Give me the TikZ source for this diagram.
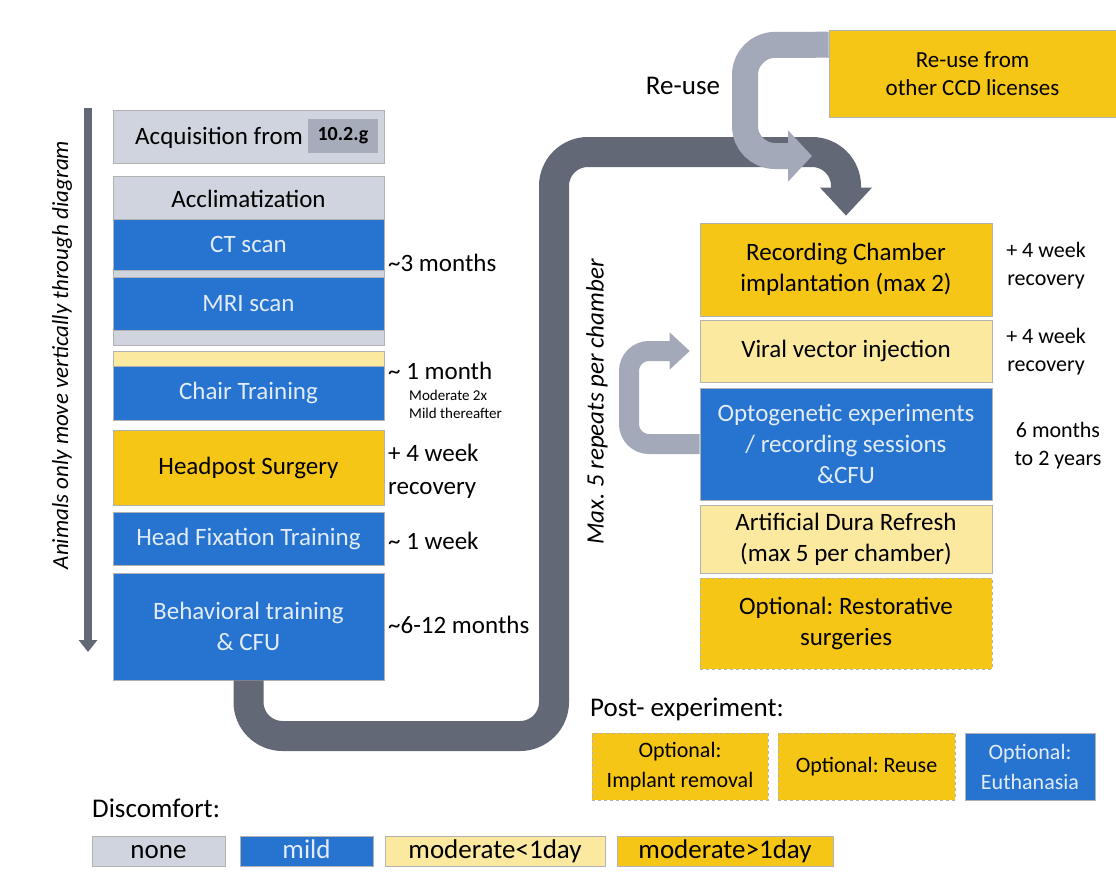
\documentclass[tikz,border=0pt]{standalone}
\usepackage{fontspec}
\setmainfont{Carlito}
\usetikzlibrary{arrows.meta,calc}
\frenchspacing

% discomfort colours
\definecolor{nonegray}{RGB}{208,212,222}
\definecolor{taggray}{RGB}{166,172,186}
\definecolor{mildblue}{RGB}{38,115,208}
\definecolor{lowyellow}{RGB}{252,233,160}
\definecolor{highyellow}{RGB}{246,198,22}
\definecolor{bluetext}{RGB}{226,235,248}
% arrow colours
\definecolor{pipegray}{RGB}{98,104,118}
\definecolor{reusegray}{RGB}{163,169,184}

\tikzset{
  wh/.style 2 args={minimum width=#1pt, minimum height=#2pt},
  box/.style={draw=gray!60, line width=0.6pt, inner sep=0pt, align=center,
    font=\fontsize{25}{31}\selectfont},
  nonebox/.style={box, fill=nonegray},
  mildbox/.style={box, fill=mildblue, text=bluetext},
  lowbox/.style={box, fill=lowyellow},
  highbox/.style={box, fill=highyellow},
  optbox/.style={box, fill=highyellow, dashed},
  legbox/.style={font=\fontsize{27}{30}\selectfont, text height=19pt, text depth=5pt},
  postbox/.style={font=\fontsize{22}{30}\selectfont},
  note/.style={anchor=west, inner sep=0pt, align=left, font=\fontsize{25}{33}\selectfont},
  smallnote/.style={anchor=west, inner sep=0pt, align=left, font=\fontsize{15}{18}\selectfont},
  rnote/.style={inner sep=0pt, align=center, font=\fontsize{22}{28}\selectfont},
  title/.style={anchor=west, inner sep=0pt, font=\fontsize{27}{32}\selectfont},
  sidetext/.style={rotate=90, inner sep=0pt, font=\fontsize{23}{26}\selectfont\itshape},
  pipe/.style={pipegray, line width=30pt, rounded corners=34pt},
  reuse/.style={reusegray, line width=26pt, rounded corners=30pt},
}

\begin{document}
\begin{tikzpicture}[x=1pt, y=-1pt]

% the page
\fill[white] (0,0) rectangle (1116,873);
\useasboundingbox (0,0) rectangle (1116,873);

% the left column
\node[nonebox, wh={271}{53}] (acq) at (248.5,136.5) {};
\node[inner sep=0pt, font=\fontsize{25}{29}\selectfont] (acqtext) at (219,138) {Acquisition from};
\node[fill=taggray, wh={70}{34}, inner sep=0pt, font=\fontsize{20}{22}\selectfont\bfseries] (acqtag) at (343,136) {10.2.g};

\node[nonebox, wh={271}{169}] (accl) at (248.5,260.5) {};
\node[inner sep=0pt, font=\fontsize{25}{29}\selectfont] (accltext) at (248.5,199) {Acclimatization};
\node[mildbox, wh={271}{51}] (ct) at (248.5,244.5) {CT scan};
\node[mildbox, wh={271}{53}] (mri) at (248.5,303.5) {MRI scan};

\node[lowbox, wh={271}{15}] (chairtop) at (248.5,358.5) {};
\node[mildbox, wh={271}{54}] (chair) at (248.5,393) {Chair Training};
\node[highbox, wh={271}{75}] (headpost) at (248.5,467.5) {Headpost Surgery};
\node[mildbox, wh={271}{53}] (headfix) at (248.5,538.5) {Head Fixation Training};
\node[mildbox, wh={271}{107}] (behav) at (248.5,626.5) {Behavioral training\\\& CFU};

% durations on the left
\node[note] (ctdur) at (388,263) {\textasciitilde3 months};
\node[note] (chairdur) at (388,371) {\textasciitilde{} 1 month};
\node[smallnote] (chairnote) at (409,404) {Moderate 2x\\Mild thereafter};
\node[note] (headdur) at (388,471) {+ 4 week\\recovery};
\node[note] (fixdur) at (388,541) {\textasciitilde{} 1 week};
\node[note] (behavdur) at (388,625) {\textasciitilde6-12 months};

% the vertical flow arrow
\coordinate (flowtop) at (88,108);
\coordinate (flowbot) at (88,652);
\draw[pipegray, line width=8pt, -{Triangle[width=18pt,length=12pt]}] (flowtop) -- (flowbot);
\node[sidetext] (flowtext) at (62,355) {Animals only move vertically through diagram};

% the right column
\node[highbox, wh={287}{87}, font=\fontsize{23}{28}\selectfont] (reusebox) at (972.5,73.5) {Re-use from\\other CCD licenses};
\node[highbox, wh={292}{93}] (rec) at (846,269.5) {Recording Chamber\\implantation (max 2)};
\node[lowbox, wh={292}{62}] (viral) at (846,351) {Viral vector injection};
\node[mildbox, wh={292}{112}] (opto) at (846,444) {Optogenetic experiments\\/ recording sessions\\\&CFU};
\node[lowbox, wh={292}{68}] (dura) at (846,539) {Artificial Dura Refresh\\(max 5 per chamber)};
\node[optbox, wh={292}{91}] (resto) at (846,623.5) {Optional: Restorative\\surgeries};

% durations on the right
\node[rnote] (recdur) at (1046,266) {+ 4 week\\recovery};
\node[rnote] (viraldur) at (1046,352) {+ 4 week\\recovery};
\node[rnote] (optodur) at (1058,446) {6 months\\to 2 years};

% the big connector
\draw[pipe, shorten >=7pt, -{Triangle[width=50pt,length=28pt]}] (behav.south) |- (554,736) -- (554,152) -- (846,152) -- (rec.north);

% the re-use arrow
\coordinate (reusetip) at (812,156);
\draw[reuse, -{Triangle[width=50pt,length=24pt]}] ($(reusebox.north west)+(0,15)$) -- (745,45) -- (745,156) -- (reusetip);
\node[inner sep=0pt, font=\fontsize{27}{30}\selectfont] (reuselabel) at (683,86) {Re-use};

% the repeat loop
\draw[reusegray, line width=20pt, rounded corners=20pt, shorten >=10pt, -{Triangle[width=36pt,length=20pt]}] (opto.west) -- (629,444) -- (629,351) -- (viral.west);
\node[sidetext, font=\fontsize{25}{28}\selectfont\itshape] (looptext) at (597,402) {Max. 5 repeats per chamber};

% post experiment
\node[title] (posttitle) at (590,709) {Post- experiment:};
\node[optbox, postbox, wh={176}{67}] (implant) at (680,766.5) {Optional:\\Implant removal};
\node[optbox, postbox, wh={177}{67}] (reusepost) at (866.5,766.5) {Optional: Reuse};
\node[mildbox, postbox, wh={130}{67}] (euth) at (1030,766.5) {Optional:\\Euthanasia};

% the legend
\node[title] (legtitle) at (92,808) {Discomfort:};
\node[nonebox, legbox, wh={133}{30}] (legnone) at (158.5,851) {none};
\node[mildbox, legbox, wh={133}{30}] (legmild) at (306.5,851) {mild};
\node[lowbox, legbox, wh={220}{30}] (leglow) at (495,851) {moderate<1day};
\node[highbox, legbox, wh={216}{30}] (leghigh) at (725,851) {moderate>1day};

\end{tikzpicture}
\end{document}
